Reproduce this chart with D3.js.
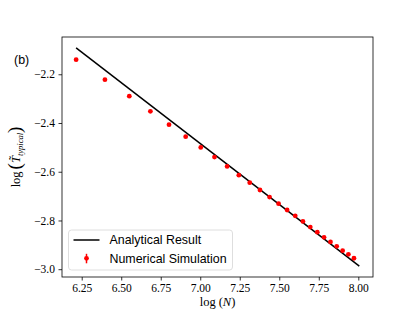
<!DOCTYPE html>
<html>
<head>
<meta charset="utf-8">
<script src="https://cdn.jsdelivr.net/npm/d3@7"></script>
<style>
  body { margin: 0; background: #fff; }
  .tick text { font-family: "Liberation Serif", serif; font-size: 11.5px; fill: #000; }
  .legend-names { font-family: "Liberation Sans", Arial, sans-serif; font-size: 12.4px; fill: #000; }
</style>
</head>
<body>
<div id="chart"></div>
<script>
// log(N) for the simulated system sizes
var simX = [6.2146, 6.3969, 6.5511, 6.6846, 6.8024, 6.9078, 7.0031, 7.0901, 7.1701, 7.2442,
            7.3132, 7.3778, 7.4384, 7.4955, 7.5496, 7.6009, 7.6497, 7.6962, 7.7407, 7.7832,
            7.8240, 7.8633, 7.9010, 7.9374, 7.9725];
// log(T typical), numerical simulation
var simY = [-2.140, -2.222, -2.290, -2.352, -2.407, -2.456, -2.500, -2.540, -2.578, -2.614,
            -2.645, -2.675, -2.704, -2.731, -2.757, -2.781, -2.804, -2.827, -2.848, -2.869,
            -2.888, -2.906, -2.924, -2.939, -2.955];
// analytical result (straight line)
var lineX = [6.2146, 8.0064];
var lineY = [-2.092, -2.987];

var xTicks = [6.25, 6.50, 6.75, 7.00, 7.25, 7.50, 7.75, 8.00];
var yTicks = [-3.0, -2.8, -2.6, -2.4, -2.2];
var legendNames = ["Analytical Result", "Numerical Simulation"];

var width = 415, height = 311;
var margin = {left: 62, right: 42, top: 37, bottom: 34};

var svg = d3.select("#chart").append("svg")
    .attr("width", width)
    .attr("height", height);

var x = d3.scaleLinear()
    .domain([6.1253, 8.093])
    .range([margin.left, width - margin.right]);

var y = d3.scaleLinear()
    .domain([-3.032, -2.047])
    .range([height - margin.bottom, margin.top]);

var fmtMinus = function(s) { return s.replace("-", "\u2212"); };

// axes
var xAxis = svg.append("g")
    .attr("transform", "translate(0," + (height - margin.bottom) + ")")
    .call(d3.axisBottom(x).tickValues(xTicks).tickFormat(d3.format(".2f"))
        .tickSizeInner(3.5).tickSizeOuter(0).tickPadding(3.5));

var yAxis = svg.append("g")
    .attr("transform", "translate(" + margin.left + ",0)")
    .call(d3.axisLeft(y).tickValues(yTicks)
        .tickFormat(function(d) { return fmtMinus(d3.format(".1f")(d)); })
        .tickSizeInner(3.5).tickSizeOuter(0).tickPadding(3.5));

svg.selectAll(".domain").remove();
svg.selectAll(".tick line").attr("stroke", "#000").attr("stroke-width", 0.8);

// frame
svg.append("rect")
    .attr("x", margin.left)
    .attr("y", margin.top)
    .attr("width", width - margin.left - margin.right)
    .attr("height", height - margin.top - margin.bottom)
    .attr("fill", "none")
    .attr("stroke", "#000")
    .attr("stroke-width", 0.8);

// analytical line
var line = d3.line()
    .x(function(d, i) { return x(lineX[i]); })
    .y(function(d) { return y(d); });

svg.append("path")
    .datum(lineY)
    .attr("d", line)
    .attr("fill", "none")
    .attr("stroke", "#000")
    .attr("stroke-width", 1.5);

// simulation points
svg.append("g").selectAll("circle")
    .data(simY)
    .enter().append("circle")
    .attr("cx", function(d, i) { return x(simX[i]); })
    .attr("cy", function(d) { return y(d); })
    .attr("r", 2.4)
    .attr("fill", "#ff0000");

// axis labels
svg.append("text")
    .attr("x", (margin.left + width - margin.right) / 2)
    .attr("y", 306)
    .attr("text-anchor", "middle")
    .style("font-family", "Liberation Serif, serif")
    .style("font-size", "12.5px")
    .html('log<tspan dx="3">(</tspan><tspan font-style="italic">N</tspan>)');

var yl = svg.append("text")
    .attr("transform", "translate(20," + ((margin.top + height - margin.bottom) / 2) + ") rotate(-90)")
    .attr("text-anchor", "middle")
    .style("font-family", "Liberation Serif, serif")
    .style("font-size", "12.5px");
yl.append("tspan").text("log");
yl.append("tspan").attr("dx", 2).attr("font-size", "19px").attr("dy", 1).text("(");
yl.append("tspan").attr("font-style", "italic").attr("dy", -1).text("T\u0303");
yl.append("tspan").attr("font-style", "italic").attr("font-size", "8.5px").attr("dy", 2.5).text("typical");
yl.append("tspan").attr("font-size", "19px").attr("dy", -1.5).text(")");

// panel label
svg.append("text")
    .attr("x", 14)
    .attr("y", 64)
    .style("font-family", "Liberation Sans, Arial, sans-serif")
    .style("font-size", "12.4px")
    .text("(b)");

// legend
var legend = svg.append("g").attr("transform", "translate(68.5,230)");
legend.append("rect")
    .attr("width", 164)
    .attr("height", 40)
    .attr("rx", 3)
    .attr("fill", "#fff")
    .attr("fill-opacity", 0.8)
    .attr("stroke", "#d5d5d5")
    .attr("stroke-width", 0.8);

var item = legend.selectAll(".legend")
    .data(legendNames)
    .enter().append("g")
    .attr("class", "legend")
    .attr("transform", function(d, i) { return "translate(0," + (10 + 18.3 * i) + ")"; });

item.append("text")
    .attr("class", "legend-names")
    .attr("x", 41)
    .attr("dy", "0.35em")
    .text(function(d) { return d; });

legend.append("line")
    .attr("x1", 5).attr("x2", 31).attr("y1", 10).attr("y2", 10)
    .attr("stroke", "#000").attr("stroke-width", 1.5);
legend.append("line")
    .attr("x1", 18).attr("x2", 18).attr("y1", 23.8).attr("y2", 33.3)
    .attr("stroke", "#ff0000").attr("stroke-width", 1.5);
legend.append("circle")
    .attr("cx", 18).attr("cy", 28.3).attr("r", 2.4)
    .attr("fill", "#ff0000");
</script>
</body>
</html>
